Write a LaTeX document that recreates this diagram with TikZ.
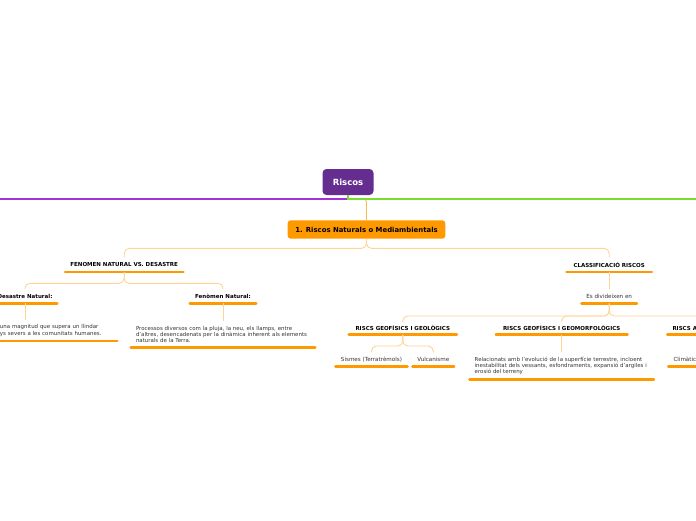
\documentclass[tikz,border=0pt]{standalone}
\usepackage{fontspec}
\setmainfont{DejaVu Sans}
\usetikzlibrary{calc}
\definecolor{purp}{HTML}{662D91}
\definecolor{org}{HTML}{FF9900}
\definecolor{conn}{HTML}{FFD494}
\definecolor{conntop}{HTML}{FFB84D}
\definecolor{leafgreen}{HTML}{77DD2E}
\definecolor{violetline}{HTML}{A532D6}
\definecolor{txt}{HTML}{333333}
\begin{document}
\begin{tikzpicture}[x=1pt,y=-1pt,
  topic/.style={anchor=south, inner sep=0pt, minimum height=14pt, font=\fontsize{5.5}{6.2}\selectfont\bfseries, text=black},
  sub/.style={anchor=south, inner sep=0pt, minimum height=14pt, font=\fontsize{5.6}{6.2}\selectfont, text=txt},
  body/.style={anchor=south, inner xsep=5pt, inner ysep=0pt, font=\fontsize{5.45}{6.2}\selectfont, text=txt, align=left, text width=174pt},
  uline/.style={draw=org, line width=2.6pt, line cap=round},
  link/.style={draw=conn, line width=0.9pt, rounded corners=5pt},
  rbox/.style={fill=purp, rounded corners=4pt, minimum width=51pt, minimum height=26pt, inner sep=0pt, text=white, font=\fontsize{8.5}{10}\selectfont\bfseries},
  rnbox/.style={fill=org, rounded corners=3pt, minimum width=157.6pt, minimum height=18.4pt, inner sep=0pt, text=black, font=\fontsize{6.9}{8}\selectfont\bfseries},
]
\useasboundingbox (0,0) rectangle (696,520);
\fill[white] (0,0) rectangle (696,520);
\clip (0,0) rectangle (696,520);

% main nodes
\node[rbox] (riscos) at (348,182) {Riscos};
\node[rnbox] (rn) at (366.5,229.5) {1. Riscos Naturals o Mediambientals};

\node[topic, minimum width=118pt] (fen) at (124.2,272) {FENOMEN NATURAL VS. DESASTRE};
\node[topic, minimum width=85pt] (cla) at (609.2,272) {CLASSIFICACIÓ RISCOS};

\node[topic, minimum width=64pt] (des) at (25,303.3) {Desastre Natural:};
\node[topic, minimum width=66pt] (fno) at (223,303.3) {Fenòmen Natural:};

\node[body, minimum height=20.6pt] (dest) at (25,341) {\mbox{\hspace*{62pt}una magnitud que supera un llindar}\\\mbox{\hspace*{62pt}ys severs a les comunitats humanes.}};
\node[body, minimum height=26pt] (fnt) at (223,347.7) {\mbox{Processos diversos com la pluja, la neu, els llamps, entre}\\\mbox{d'altres, desencadenats per la dinàmica inherent als elements}\\\mbox{naturals de la Terra.}};

\node[sub, minimum width=55pt] (es) at (609.2,303.3) {Es divideixen en};

\node[topic, minimum width=107.7pt] (geo) at (402.8,334.7) {RISCS GEOFÍSICS I GEOLÒGICS};
\node[topic, minimum width=131.3pt] (gm) at (561.7,334.7) {RISCS GEOFÍSICS I GEOMORFOLÒGICS};
\node[topic, anchor=south west, inner xsep=5pt, minimum width=0pt] (atm) at (667.3,334.7) {RISCS ATMOSFÈRICS};

\node[sub, minimum width=71.6pt] (sis) at (371.5,366.7) {Sismes (Terratrèmols)};
\node[sub, minimum width=41.3pt] (vul) at (433.3,366.7) {Vulcanisme};
\node[body, minimum height=27pt] (gmt) at (561.7,379.5) {\mbox{Relacionats amb l'evolució de la superfície terrestre, incloent}\\\mbox{inestabilitat dels vessants, esfondraments, expansió d'argiles i}\\\mbox{erosió del terreny}};
\node[sub, anchor=south west, inner xsep=5pt, minimum width=0pt] (cli) at (668.3,366.7) {Climàtics};

% underlines
\foreach \n in {fen,cla,des,fno,dest,fnt,es,geo,gm,atm,sis,vul,gmt,cli}
  \draw[uline] (\n.south west) -- (\n.south east);

% top connectors
\coordinate (lend) at (0,199);
\coordinate (rend) at (696,199);
\coordinate (hub) at (348,199);
\draw[conntop, line width=0.9pt, rounded corners=3pt] (hub) -| (rn.north);
\draw[draw=violetline, line width=2pt] (lend) -- (hub);
\draw[draw=leafgreen, line width=2pt] (riscos.south) |- (rend);

% tree connectors
\draw[link] (rn.south) -- ++(0,9.5) -| (fen.north);
\draw[link] (rn.south) -- ++(0,9.5) -| (cla.north);
\draw[link] (fen.south) -- ++(0,11.3) -| (des.north);
\draw[link] (fen.south) -- ++(0,11.3) -| (fno.north);
\draw[link] (des.south) -- (dest.north);
\draw[link] (fno.south) -- (fnt.north);
\draw[link] (cla.south) -- (es.north);
\draw[link] (es.south) -- ++(0,12.7) -| (geo.north);
\draw[link] (es.south) -- ++(0,12.7) -| (gm.north);
\draw[link] (es.south) -- ++(0,12.7) -| (atm.north);
\draw[link] (geo.south) -- ++(0,11.3) -| (sis.north);
\draw[link] (geo.south) -- ++(0,11.3) -| (vul.north);
\draw[link] (gm.south) -- (gmt.north);
\end{tikzpicture}
\end{document}
